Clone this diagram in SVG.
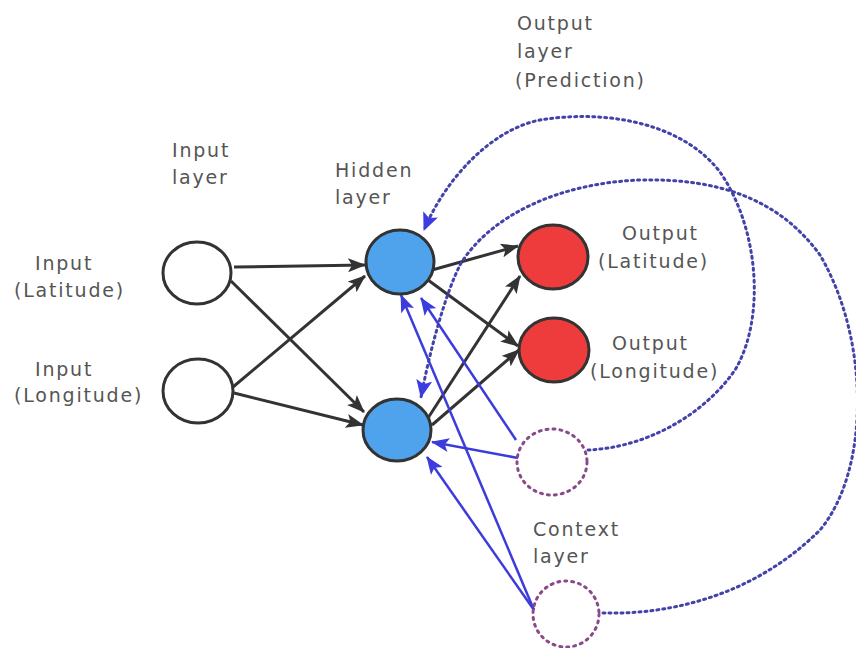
<svg xmlns="http://www.w3.org/2000/svg" width="856" height="648" viewBox="0 0 856 648">
<style>
text{font-family:"DejaVu Sans","Liberation Sans",sans-serif;font-size:19px;fill:#555;letter-spacing:1.8px}
.in{fill:#fff;stroke:#333;stroke-width:3}
.hid{fill:#4ea3ec;stroke:#333;stroke-width:3}
.out{fill:#ee3c3c;stroke:#333;stroke-width:3}
.ctx{fill:none;stroke:#8a4a8a;stroke-width:3;stroke-dasharray:2 5;stroke-linecap:round}
.blk{stroke:#333;stroke-width:3;fill:none;marker-end:url(#ab)}
.blu{stroke:#3c3cdc;stroke-width:2.5;fill:none;marker-end:url(#au)}
.loop{stroke:#4242a8;stroke-width:3;fill:none;stroke-dasharray:2 4;stroke-linecap:round;marker-end:url(#al)}
</style>
<defs>
<marker id="ab" markerUnits="userSpaceOnUse" markerWidth="18" markerHeight="14" refX="17" refY="7" orient="auto"><path d="M0,0 L18,7 L0,14 L4,7 Z" fill="#333"/></marker>
<marker id="au" markerUnits="userSpaceOnUse" markerWidth="18" markerHeight="14" refX="17" refY="7" orient="auto"><path d="M0,0 L18,7 L0,14 L4,7 Z" fill="#3c3cdc"/></marker>
<marker id="al" markerUnits="userSpaceOnUse" markerWidth="18" markerHeight="16" refX="17" refY="8" orient="auto"><path d="M0,0 L18,8 L0,16 L4,8 Z" fill="#3c3ce0"/></marker>
</defs>
<rect width="856" height="648" fill="#fff"/>
<g id="connectors">
<line class="blk" x1="234" y1="267" x2="365" y2="265"/>
<line class="blk" x1="231" y1="281" x2="364" y2="412"/>
<line class="blk" x1="233" y1="387" x2="365" y2="276"/>
<line class="blk" x1="234" y1="393" x2="363" y2="425"/>
<line class="blk" x1="432" y1="270" x2="518" y2="246"/>
<line class="blk" x1="428" y1="280" x2="518" y2="346"/>
<line class="blk" x1="428" y1="418" x2="520" y2="276"/>
<line class="blk" x1="432" y1="425" x2="519" y2="350"/>
<line class="blu" x1="518" y1="458" x2="432" y2="442"/>
<line class="blu" x1="516" y1="440" x2="421" y2="298"/>
<line class="blu" x1="534" y1="610" x2="401" y2="295"/>
<line class="blu" x1="534" y1="610" x2="427" y2="457"/>
<path class="loop" d="M588 450 C640 448 700 420 735 370 C765 320 760 230 720 172 C680 120 600 110 540 120 C490 130 445 180 424 230"/>
<path class="loop" d="M603 613 C680 615 760 590 820 530 C870 470 870 340 820 255 C780 200 720 178 640 180 C560 183 490 215 460 265 C445 295 430 350 421 397"/>
</g>
<g id="input-lat"><ellipse class="in" cx="197" cy="273" rx="34" ry="31"/><text x="35" y="270">Input</text><text x="14" y="297">(Latitude)</text></g>
<g id="input-lon"><ellipse class="in" cx="198" cy="391" rx="35" ry="32"/><text x="35" y="376">Input</text><text x="14" y="402">(Longitude)</text></g>
<g id="input-layer-label"><text x="172" y="157">Input</text><text x="172" y="184">layer</text></g>
<g id="hidden1"><ellipse class="hid" cx="400" cy="262" rx="34" ry="32"/></g>
<g id="hidden2"><ellipse class="hid" cx="397" cy="430" rx="34" ry="31"/></g>
<g id="hidden-layer-label"><text x="335" y="177">Hidden</text><text x="335" y="204">layer</text></g>
<g id="output-lat"><ellipse class="out" cx="553" cy="257" rx="35" ry="32"/><text x="622" y="240">Output</text><text x="598" y="268">(Latitude)</text></g>
<g id="output-lon"><ellipse class="out" cx="554" cy="350" rx="35" ry="32"/><text x="612" y="350">Output</text><text x="590" y="378">(Longitude)</text></g>
<g id="output-layer-label"><text x="517" y="30">Output</text><text x="517" y="58">layer</text><text x="515" y="87">(Prediction)</text></g>
<g id="context1"><ellipse class="ctx" cx="552" cy="462" rx="35" ry="33"/></g>
<g id="context2"><ellipse class="ctx" cx="566" cy="614" rx="33" ry="33"/></g>
<g id="context-layer-label"><text x="533" y="536">Context</text><text x="533" y="563">layer</text></g>
</svg>
